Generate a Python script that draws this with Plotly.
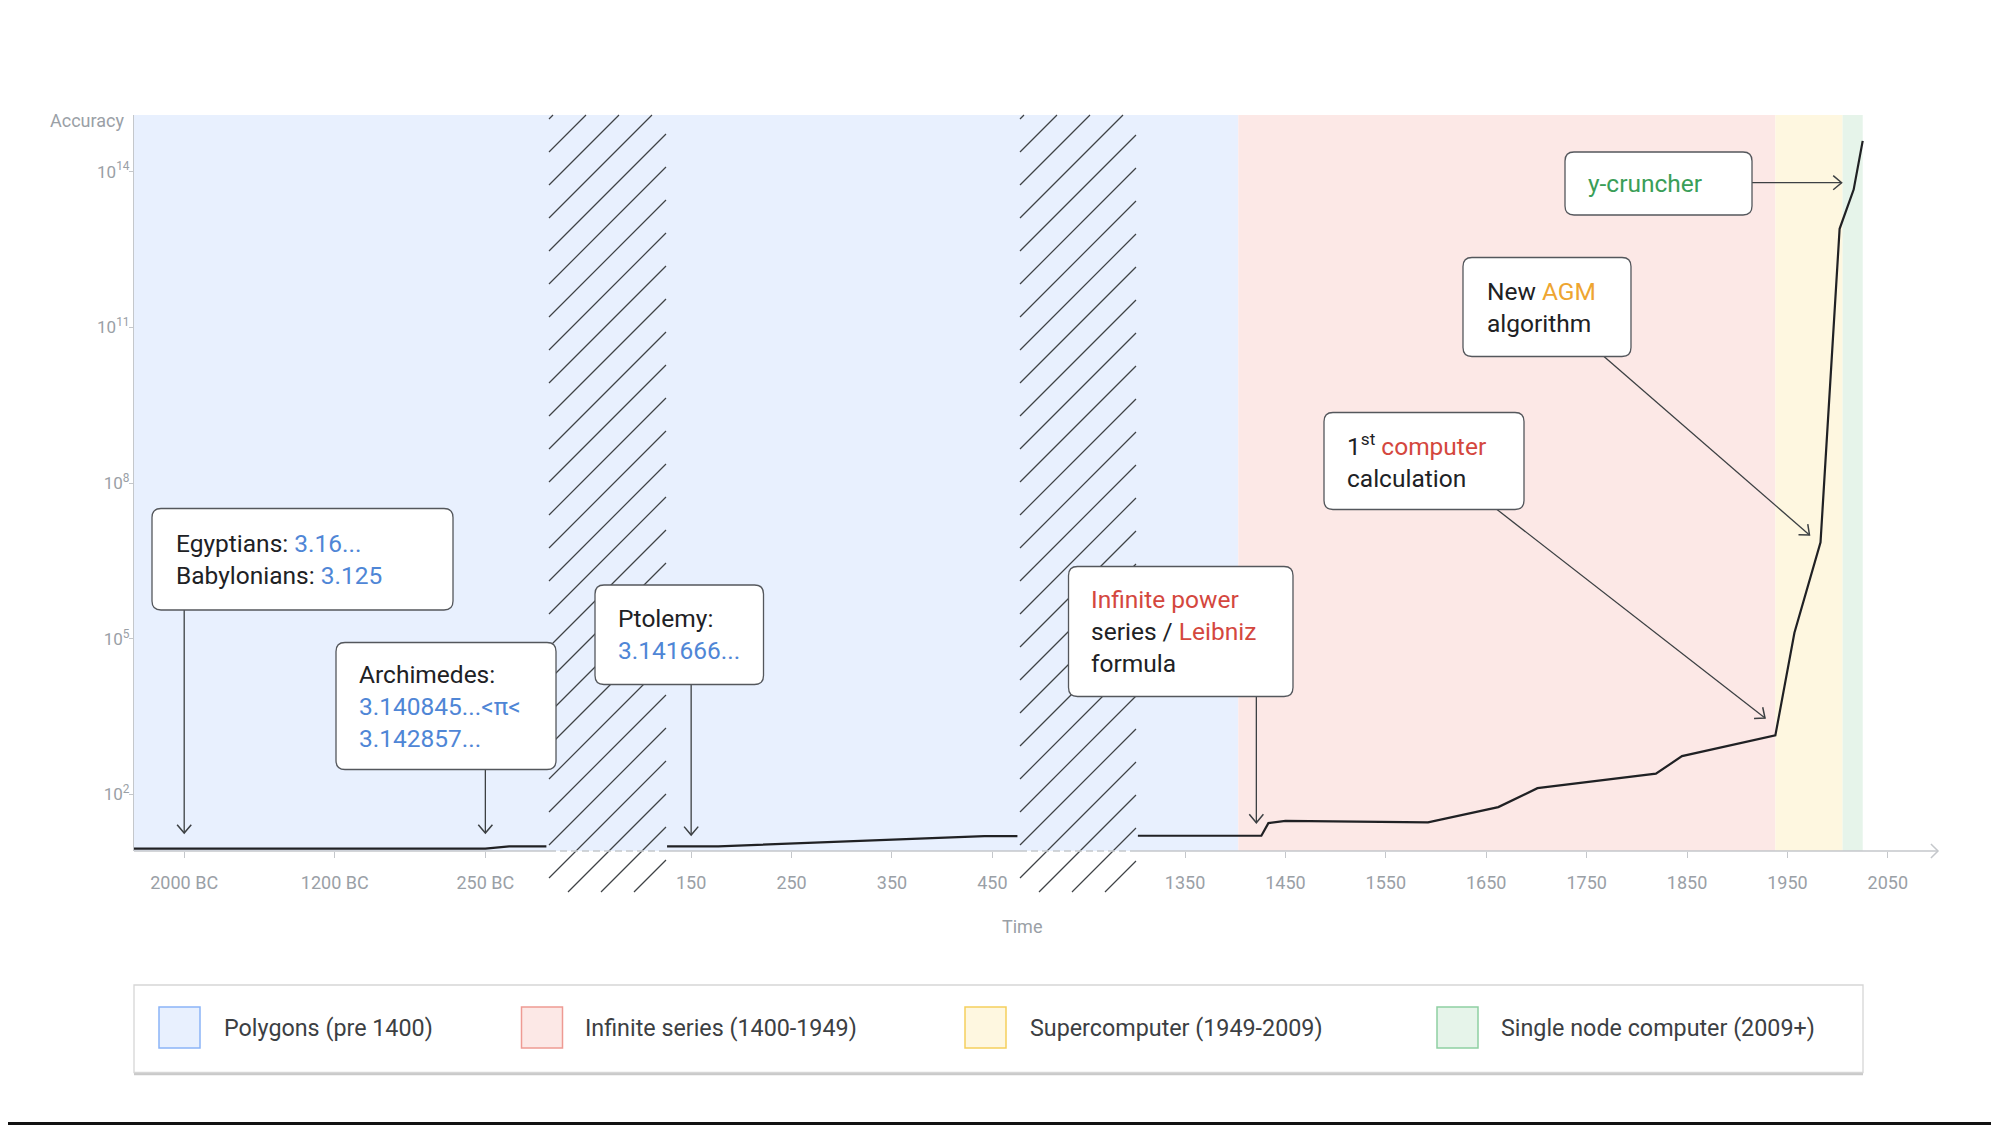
import numpy as np
import plotly.graph_objects as go

# ---------------- data ----------------
# accuracy of pi approximations through time (years; BC are negative)
ANCIENT_YEARS = [-2300, -250, -100, 135]
ANCIENT_ACCURACY = [9, 9, 10, 10]
CLASSICAL_YEARS = [126, 177, 442, 475]
CLASSICAL_ACCURACY = [10, 10, 15.7, 15.7]
MODERN_YEARS = [1303, 1426, 1433, 1450, 1592, 1662, 1701, 1819, 1845, 1938,
                1957, 1983, 2002, 2016, 2025]
MODERN_ACCURACY = [16, 16, 28, 31, 29, 57, 132, 251, 547, 1371,
                   1.3e5, 7.2e6, 7.9e12, 4.5e13, 3.9e14]

ANCIENT_TICKS = [-2000, -1200, -250]
ANCIENT_TICK_TEXT = ["2000 BC", "1200 BC", "250 BC"]
CLASSICAL_TICKS = [150, 250, 350, 450]
MODERN_TICKS = [1350, 1450, 1550, 1650, 1750, 1850, 1950, 2050]

Y_TICKS = [1e2, 1e5, 1e8, 1e11, 1e14]
Y_TICK_TEXT = ["10<sup>2</sup>", "10<sup>5</sup>", "10<sup>8</sup>",
               "10<sup>11</sup>", "10<sup>14</sup>"]

ERA_NAMES = ["Polygons (pre 1400)", "Infinite series (1400-1949)",
             "Supercomputer (1949-2009)", "Single node computer (2009+)"]
ERA_END_YEARS = [1403, 1938, 2005, 2025]

# callout targets (year, accuracy)
EGYPT_TARGET = (-2000, 18)
ARCHIMEDES_TARGET = (-250, 18)
PTOLEMY_TARGET = (150, 16.5)
LEIBNIZ_TARGET = (1421, 28.5)
COMPUTER_TARGET = (1927.7, 2970)
AGM_TARGET = (1972, 1.0e7)
YCRUNCHER_TARGET = (2004, 6.1e13)

# ---------------- styling / layout ----------------
W, H = 1999, 1125
OFF = 8                      # page offset of the figure inside the browser window
L, T = 134 - OFF, 115 - OFF  # plot area origin (figure coords)
PW, PH = 1807, 736
R = W - L - PW
B = H - T - PH
XR = [0.0, 18.0]
YR = [0.91, 15.09]
FONT = "Roboto"

BAND_FILLS = ["#e8f0fe", "#fce8e6", "#fef7e0", "#e6f4ea"]
SWATCH_LINES = ["#8ab4f8", "#ee9a93", "#f5cf5c", "#8fcfa2"]
BLUE_T = "#4f86d6"
RED_T = "#d4473e"
ORANGE_T = "#eea531"
GREEN_T = "#3a9e58"
INK = "#202124"
GRAY_T = "#9aa0a6"
AXIS_C = "#c4c7cb"
ARROW_C = "#3c4043"


# broken time axis: each era segment has its own linear piece
def ancient_pos(year):
    y = np.asarray(year, float)
    t = np.array(ANCIENT_TICKS, float)
    p = np.array([0.5, 2.0, 3.5])
    left = p[0] + (y - t[0]) * (p[1] - p[0]) / (t[1] - t[0])
    right = p[-1] + (y - t[-1]) * (p[-1] - p[-2]) / (t[-1] - t[-2])
    return np.where(y < t[0], left, np.where(y > t[-1], right, np.interp(y, t, p)))


def classical_pos(year):
    return 5.55 + (np.asarray(year, float) - 150) / 100.0


def modern_pos(year):
    return 10.47 + (np.asarray(year, float) - 1350) / 100.0


# screen-pixel helpers (screen coords = figure coords + OFF)
def u2px(u):
    return OFF + L + (u - XR[0]) / (XR[1] - XR[0]) * PW


def v2py(v):
    return OFF + T + PH - (np.log10(v) - YR[0]) / (YR[1] - YR[0]) * PH


def qx(px):
    return (px - OFF - L) / PW


def qy(py):
    return (T + PH - (py - OFF)) / PH


def pt(px, py):
    return f"{qx(px):.5f},{qy(py):.5f}"


# ---------------- traces ----------------
xs = (list(ancient_pos(ANCIENT_YEARS)) + [None] + list(classical_pos(CLASSICAL_YEARS))
      + [None] + list(modern_pos(MODERN_YEARS)))
ys = ANCIENT_ACCURACY + [None] + CLASSICAL_ACCURACY + [None] + MODERN_ACCURACY

fig = go.Figure()
fig.add_trace(go.Scatter(x=xs, y=ys, mode="lines", connectgaps=False,
                         line=dict(color=INK, width=2.2), hoverinfo="skip",
                         showlegend=False))

tickvals = (list(ancient_pos(ANCIENT_TICKS)) + list(classical_pos(CLASSICAL_TICKS))
            + list(modern_pos(MODERN_TICKS)))
ticktext = ANCIENT_TICK_TEXT + [str(t) for t in CLASSICAL_TICKS] + [str(t) for t in MODERN_TICKS]

shapes = []
annotations = []

# era background bands
starts = [XR[0]] + [float(modern_pos(y)) for y in ERA_END_YEARS[:-1]]
ends = [float(modern_pos(y)) for y in ERA_END_YEARS]
for s, e, fill in zip(starts, ends, BAND_FILLS):
    shapes.append(dict(type="rect", xref="x", yref="paper", x0=s, x1=e, y0=0, y1=1,
                       fillcolor=fill, line=dict(width=0), layer="below"))

# axis breaks (hatched), screen pixel coords
BREAKS_PX = [(549, 666), (1020, 1136)]
TOP_PX = OFF + T
AXIS_Y = OFF + T + PH
HATCH_BOTTOM = 892
for x0, x1 in BREAKS_PX:
    segs = []
    c = x0 + 878 - 33 * 40
    while c < x1 + HATCH_BOTTOM + 40:
        xa = max(x0, c - HATCH_BOTTOM)
        xb = min(x1, c - TOP_PX)
        if xb - xa > 1:
            segs.append(f"M{pt(xa, c - xa)} L{pt(xb, c - xb)}")
        c += 33
    shapes.append(dict(type="path", xref="paper", yref="paper", path=" ".join(segs),
                       line=dict(color="#3f4246", width=1.25), layer="above"))

# x axis line: solid pieces, dashed across breaks, arrow at end
AXIS_START = OFF + L
AXIS_END = 1938
pieces = [(AXIS_START, BREAKS_PX[0][0], "solid"), (BREAKS_PX[0][0], BREAKS_PX[0][1], "7px,4px"),
          (BREAKS_PX[0][1], BREAKS_PX[1][0], "solid"), (BREAKS_PX[1][0], BREAKS_PX[1][1], "7px,4px"),
          (BREAKS_PX[1][1], AXIS_END, "solid")]
for a, b, d in pieces:
    shapes.append(dict(type="line", xref="paper", yref="paper", x0=qx(a), x1=qx(b),
                       y0=qy(AXIS_Y), y1=qy(AXIS_Y), line=dict(color=AXIS_C, width=1.5, dash=d),
                       layer="above"))


def chevron(tx, ty, dx, dy, size=11, ang=40):
    n = np.hypot(dx, dy)
    dx, dy = dx / n, dy / n
    pts = []
    for s in (1, -1):
        a = np.radians(180 + s * ang)
        rx = dx * np.cos(a) - dy * np.sin(a)
        ry = dx * np.sin(a) + dy * np.cos(a)
        pts.append((tx + size * rx, ty + size * ry))
    return f"M{pt(*pts[0])} L{pt(tx, ty)} L{pt(*pts[1])}"


shapes.append(dict(type="path", xref="paper", yref="paper",
                   path=chevron(AXIS_END, AXIS_Y, 1, 0, size=10, ang=45),
                   line=dict(color=AXIS_C, width=1.5), layer="above"))


def rrect(x0, y0, x1, y1, r=9):
    return (f"M{pt(x0 + r, y0)} L{pt(x1 - r, y0)} Q{pt(x1, y0)} {pt(x1, y0 + r)} "
            f"L{pt(x1, y1 - r)} Q{pt(x1, y1)} {pt(x1 - r, y1)} L{pt(x0 + r, y1)} "
            f"Q{pt(x0, y1)} {pt(x0, y1 - r)} L{pt(x0, y0 + r)} Q{pt(x0, y0)} {pt(x0 + r, y0)} Z")


def col(t, c):
    return f"<span style='color:{c}'>{t}</span>"


def target_px(pos_fn, tgt):
    return float(u2px(pos_fn(tgt[0]))), float(v2py(tgt[1]))


CALLOUTS = [
    dict(text="Egyptians: " + col("3.16...", BLUE_T) + "<br>Babylonians: " + col("3.125", BLUE_T),
         box=(152, 508.5, 453, 610), tx=176, tail="bottom", tip=target_px(ancient_pos, EGYPT_TARGET)),
    dict(text="Archimedes:<br>" + col("3.140845...&lt;π&lt;", BLUE_T) + "<br>" + col("3.142857...", BLUE_T),
         box=(336, 642.5, 556, 769.5), tx=359, tail="bottom", tip=target_px(ancient_pos, ARCHIMEDES_TARGET)),
    dict(text="Ptolemy:<br>" + col("3.141666...", BLUE_T),
         box=(595, 585, 763.5, 684.5), tx=618, tail="bottom", tip=target_px(classical_pos, PTOLEMY_TARGET)),
    dict(text=col("Infinite power", RED_T) + "<br>series / " + col("Leibniz", RED_T) + "<br>formula",
         box=(1068.5, 566.5, 1293, 696.5), tx=1091, tail="bottom", tip=target_px(modern_pos, LEIBNIZ_TARGET)),
    dict(text="1<sup>st</sup> " + col("computer", RED_T) + "<br>calculation",
         box=(1324, 412.5, 1524, 509.5), tx=1347, tail=(1497, 509.5), tip=target_px(modern_pos, COMPUTER_TARGET)),
    dict(text="New " + col("AGM", ORANGE_T) + "<br>algorithm",
         box=(1463, 257.5, 1631, 356.5), tx=1487, tail=(1604, 356.5), tip=target_px(modern_pos, AGM_TARGET)),
    dict(text=col("y-cruncher", GREEN_T),
         box=(1565, 152, 1752, 215), tx=1588, tail="right", tip=target_px(modern_pos, YCRUNCHER_TARGET)),
]

for c in CALLOUTS:
    x0, y0, x1, y1 = c["box"]
    tipx, tipy = c["tip"]
    if c["tail"] == "bottom":
        sx, sy = tipx, y1
    elif c["tail"] == "right":
        sx, sy = x1, tipy
    else:
        sx, sy = c["tail"]
    shapes.append(dict(type="path", xref="paper", yref="paper",
                       path=f"M{pt(sx, sy)} L{pt(tipx, tipy)}",
                       line=dict(color=ARROW_C, width=1.3), layer="above"))
    shapes.append(dict(type="path", xref="paper", yref="paper",
                       path=chevron(tipx, tipy, tipx - sx, tipy - sy, size=11, ang=40),
                       line=dict(color=ARROW_C, width=1.5), layer="above"))
    shapes.append(dict(type="path", xref="paper", yref="paper", path=rrect(x0, y0, x1, y1),
                       fillcolor="white", line=dict(color="#54575c", width=1.3), layer="above"))
    annotations.append(dict(text=c["text"], xref="paper", yref="paper", x=qx(c["tx"] - 2),
                            y=qy((y0 + y1) / 2), xanchor="left", yanchor="middle", align="left",
                            showarrow=False, font=dict(family=FONT, size=24.5, color=INK)))

# axis titles
annotations.append(dict(text="Accuracy", xref="paper", yref="paper", x=qx(126), y=qy(120.5),
                        xanchor="right", yanchor="middle", showarrow=False,
                        font=dict(family=FONT, size=18, color=GRAY_T)))
annotations.append(dict(text="Time", xref="paper", yref="paper", x=qx(1022), y=qy(926),
                        xanchor="center", yanchor="middle", showarrow=False,
                        font=dict(family=FONT, size=18, color=GRAY_T)))

# custom legend (screen pixel coords)
LEG_BOX = (134, 985, 1863, 1072.5)
SWATCH_X = [159, 521.5, 965, 1437]
TEXT_X = [224, 585, 1030, 1500.5]
shapes.append(dict(type="line", xref="paper", yref="paper", x0=qx(LEG_BOX[0]), x1=qx(LEG_BOX[2]),
                   y0=qy(LEG_BOX[3] + 1.5), y1=qy(LEG_BOX[3] + 1.5),
                   line=dict(color="#c9c9c9", width=2.5), layer="above"))
shapes.append(dict(type="rect", xref="paper", yref="paper", x0=qx(LEG_BOX[0]), x1=qx(LEG_BOX[2]),
                   y0=qy(LEG_BOX[3]), y1=qy(LEG_BOX[1]), fillcolor="white",
                   line=dict(color="#d6d6d6", width=1.3), layer="above"))
for name, fill, edge, sx, tx in zip(ERA_NAMES, BAND_FILLS, SWATCH_LINES, SWATCH_X, TEXT_X):
    shapes.append(dict(type="rect", xref="paper", yref="paper", x0=qx(sx), x1=qx(sx + 41),
                       y0=qy(1048), y1=qy(1007), fillcolor=fill,
                       line=dict(color=edge, width=1.5), layer="above"))
    annotations.append(dict(text=name, xref="paper", yref="paper", x=qx(tx - 2), y=qy(1028),
                            xanchor="left", yanchor="middle", showarrow=False,
                            font=dict(family=FONT, size=23.3, color="#3c4043")))

# thin dark strip at the bottom edge of the window
shapes.append(dict(type="rect", xref="paper", yref="paper", x0=qx(-10), x1=qx(2010),
                   y0=qy(1126), y1=qy(1122), fillcolor="#111111", line=dict(width=0),
                   layer="above"))

fig.update_layout(
    width=W, height=H,
    margin=dict(l=L, r=R, t=T, b=B, pad=0),
    paper_bgcolor="white", plot_bgcolor="white",
    showlegend=False,
    font=dict(family=FONT, color=GRAY_T),
    shapes=shapes, annotations=annotations,
    xaxis=dict(range=XR, showgrid=False, zeroline=False, showline=False,
               tickmode="array", tickvals=tickvals, ticktext=ticktext,
               ticks="outside", ticklen=6, tickwidth=1.2, tickcolor=AXIS_C,
               ticklabelstandoff=9,
               tickfont=dict(family=FONT, size=18, color=GRAY_T), fixedrange=True),
    yaxis=dict(type="log", range=YR, showgrid=False, zeroline=False,
               showline=True, linecolor=AXIS_C, linewidth=1.2,
               tickmode="array", tickvals=Y_TICKS, ticktext=Y_TICK_TEXT,
               ticks="outside", ticklen=4, tickwidth=1.2, tickcolor=AXIS_C,
               ticklabelstandoff=-4,
               tickfont=dict(family=FONT, size=17, color=GRAY_T), fixedrange=True),
)

fig.write_html("out.html")
